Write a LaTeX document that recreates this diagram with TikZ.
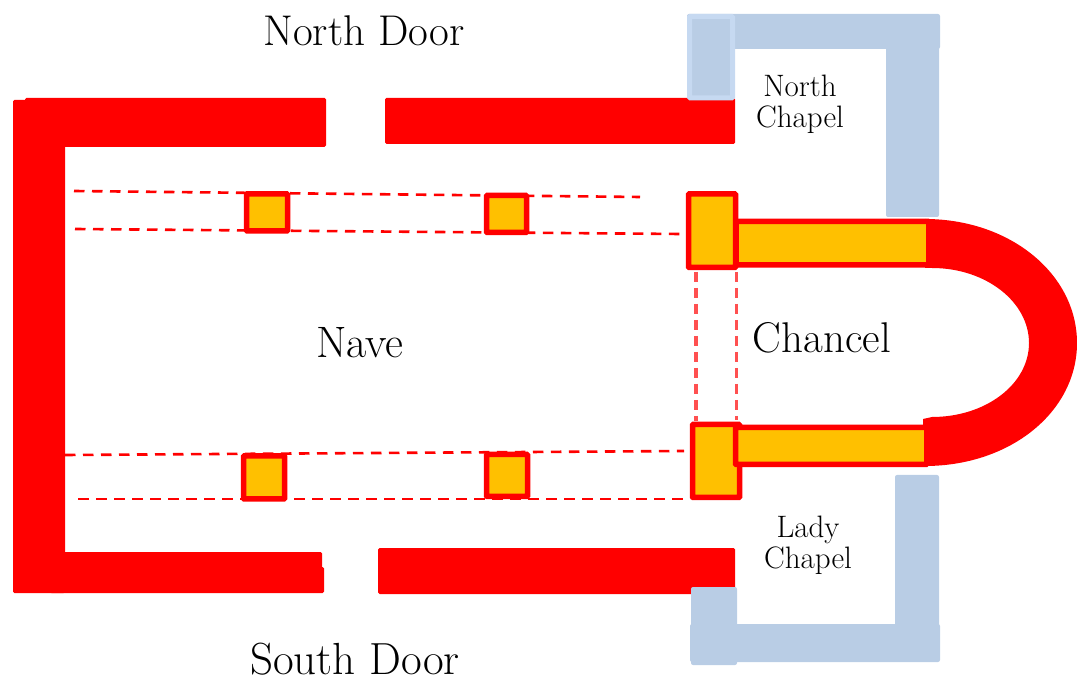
\documentclass[tikz,border=0pt]{standalone}
\usepackage{fontspec}
\setmainfont{Latin Modern Roman}
\definecolor{wallred}{HTML}{FF0000}
\definecolor{pillar}{HTML}{FFC000}
\definecolor{chapelblue}{HTML}{B9CDE5}
\definecolor{chapeledge}{HTML}{C6D9F1}
\definecolor{softred}{HTML}{FF5050}
\tikzset{
  x=1pt,y=-1pt,
  wall/.style={fill=wallred,rounded corners=1.5pt},
  chapel/.style={fill=chapelblue,rounded corners=2pt},
  pier/.style={fill=pillar,draw=wallred,line width=5.5pt,rounded corners=0.8pt},
  guide/.style={draw=wallred,line width=2.6pt,dash pattern=on 10.5pt off 7.5pt},
  softguide/.style={draw=softred,line width=3.4pt,dash pattern=on 10pt off 6pt},
  label/.style={inner sep=0pt,align=center,text=black},
  small/.style={label,font=\fontsize{31}{31}\selectfont},
}
\begin{document}
\begin{tikzpicture}
\useasboundingbox (0,0) rectangle (1077,684);
% red outer walls
\fill[wall] (13,100) rectangle (65,593);
\fill[wall] (25,98) rectangle (326,147);
\fill[wall] (385,98) rectangle (735,144);
\fill[wall] (50,552) rectangle (322,590);
\fill[wall] (50,567) rectangle (324,593);
\fill[wall] (378,548) rectangle (735,594);
% apse
\fill[wallred] (925,219) .. controls (1010,219) and (1077,274) .. (1077,343)
  .. controls (1077,412) and (1010,466) .. (925,466)
  -- (923,466) -- (923,419) -- (932,417)
  .. controls (986,417) and (1029,384) .. (1029,343)
  .. controls (1029,302) and (986,268) .. (932,268) -- (925,268) -- cycle;
% guide lines
\draw[guide] (74,191) -- (640,197);
\draw[guide] (75,229) -- (680,234);
\draw[guide] (65,455) -- (684,451);
\draw[guide] (78,499) -- (690,499);
\draw[softguide] (696,272) -- (696,421);
\draw[softguide,line width=3pt] (736,272) -- (736,420);
% chapels
\fill[chapel] (687,14) rectangle (940,49);
\fill[chapel] (886,40) rectangle (939,217);
\fill[chapel] (895,475) rectangle (939,640);
\fill[chapel] (690,624) rectangle (940,662);
\fill[chapel] (691,587) rectangle (737,665);
\draw[fill=chapelblue,draw=chapeledge,line width=5pt,rounded corners=1pt] (689.5,16.5) rectangle (732.5,98);
% chancel and piers
\draw[pier] (736,221.5) rectangle (928.75,265);
\draw[pier] (688.5,194) rectangle (735.5,267.5);
\draw[pier] (692.5,424.5) rectangle (739.5,497.5);
\draw[pier] (735.5,427.5) rectangle (926.75,464.5);
\draw[pier] (246.5,194) rectangle (287.5,231);
\draw[pier] (486.5,195.5) rectangle (526.5,232.5);
\draw[pier] (243.5,456) rectangle (284.5,499);
\draw[pier] (486.5,454.5) rectangle (527.5,496.5);
% labels
\node[label,font=\fontsize{43}{43}\selectfont] (north) at (364,31) {North Door};
\node[label,font=\fontsize{45}{45}\selectfont] (south) at (355,659) {South Door};
\node[label,font=\fontsize{44}{44}\selectfont] (nave) at (360,343) {Nave};
\node[label,font=\fontsize{43}{43}\selectfont] (chancel) at (822,338) {Chancel};
\node[small] (nchapel) at (800,104) {North\\Chapel};
\node[small] (lchapel) at (808,545) {Lady\\Chapel};
\end{tikzpicture}
\end{document}
